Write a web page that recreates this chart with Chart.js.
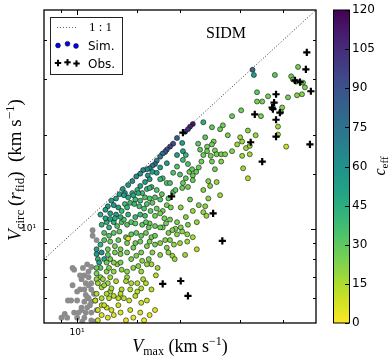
<!DOCTYPE html>
<html><head><meta charset="utf-8">
<script src="https://cdn.jsdelivr.net/npm/chart.js@4.4.1/dist/chart.umd.min.js"></script>
<style>html,body{margin:0;padding:0;background:#fff;overflow:hidden}</style>
</head><body>
<canvas id="c" width="392" height="361" style="width:392px;height:361px;display:block"></canvas>
<script>
// ---------------- data ----------------
const xRange = [8, 50];          // V_max axis (km/s), log
const yRange = [5, 50];          // V_circ(r_fid) axis (km/s), log
const ceffRange = [0, 120];
const ceffStep = 15;
const oneToOne = [8, 50];
const legendLabels = ['1 : 1', 'Sim.', 'Obs.'];
const panelLabel = 'SIDM';

// simulated haloes: [V_max, V_circ(r_fid), c_eff]
const simUpper = [
 [32.6,32.2,78],[32.9,31.0,52],[37.9,31.0,30],[44.3,32.9,25],[42.3,30.7,25],[42.8,30.0,25],[43.7,29.5,27],[45.8,29.3,25],
 [46.4,28.3,25],[45.5,26.9,22],[44.0,26.7,22],[41.4,26.3,25],[33.6,27.3,30],[36.2,26.5,25],
 [33.6,25.5,25],[34.8,25.5,25],[39.8,24.4,22],[39.5,23.6,22],[30.2,23.9,27],[34.5,22.9,25],[28.4,22.9,27],
 [26.7,21.4,27],[26.2,20.8,27],[24.8,21.1,30],[23.4,21.9,45],[31.6,20.6,22],[38.7,21.2,17],
 [38.7,20.0,17],[33.3,19.9,19],[27.6,19.9,25],[30.0,19.6,19],[23.7,19.6,30]
];
const simDiag = [
 [21.8,21.6,112],[21.4,21.2,108],[21.1,20.8,102],[20.7,20.4,98],[19.6,19.5,82],[19.1,18.7,92],[18.7,18.3,98],
 [18.3,17.9,88],[18.1,17.6,82],[17.8,17.4,78],[17.5,17.0,72],[17.1,16.5,66],[16.9,16.1,78],[16.6,15.9,72],
 [16.3,15.6,66],[16.0,15.5,60],[15.6,15.4,66],[15.3,15.0,60],[14.9,14.7,63],[14.5,14.2,60],[14.1,13.8,56],
 [13.6,13.4,56],[13.8,13.0,52],[13.3,12.9,52],[13.0,12.5,52],[12.6,12.3,52],[12.3,11.8,52],[12.1,11.5,52],
 [12.8,11.9,56],[11.7,11.1,45],[16.1,14.8,56],[16.6,15.2,52],[17.1,15.1,52],[15.8,14.1,52],[16.3,14.4,52]
];
const simMid = [
 [30.4,19.0,19],[25.1,19.0,25],[29.4,18.6,19],[31.2,18.1,18],[32.0,18.4,18],[40.9,18.3,9],[24.0,18.3,25],[20.3,18.8,52],[22.6,18.7,30],[24.8,18.6,27],[22.9,17.9,30],
 [25.3,17.8,25],[25.6,17.3,25],[26.4,17.3,25],[27.1,17.3,23],[32.0,17.3,18],[28.4,17.7,22],[24.0,17.7,27],[24.6,17.1,25],[30.4,17.1,18],[23.4,17.2,27],[20.4,17.7,52],[20.8,17.2,40],[19.6,17.2,52],
 [26.4,16.4,23],[24.8,16.4,25],[23.1,16.4,27],[20.4,16.6,37],[21.1,16.1,33],[18.3,16.2,52],[22.7,15.7,27],[22.3,15.2,27],[19.6,15.8,33],[17.5,15.7,52],[30.6,15.6,18],[25.3,15.5,25],
 [21.8,14.8,27],[21.3,15.2,27],[19.1,15.1,33],[20.0,14.9,33],[20.8,14.5,30],[21.7,15.5,30],[17.8,14.5,37],[31.6,14.5,14],
 [24.2,14.2,22],[24.5,13.7,22],[25.6,14.1,19],[21.8,14.3,27],[20.4,14.0,27],[20.3,13.5,27],[21.1,13.6,25],[18.3,14.0,33],[15.3,13.7,52],[16.5,13.6,37],[16.0,13.4,37],[15.0,13.3,40],[17.1,13.3,33],
 [23.4,13.3,22],[19.1,13.1,30],[14.5,13.0,40],[15.5,13.0,37],[16.9,12.6,33],[16.3,12.5,33],[15.8,12.6,33],[15.3,12.3,37],[14.8,12.4,37],[26.2,12.8,18],[24.2,12.5,22],[17.7,12.9,30],[18.5,12.5,30],
 [23.7,11.8,22],[20.1,11.7,22],[21.8,11.4,19],[18.3,11.9,25],[18.8,11.7,25],[17.8,11.4,25],[17.1,11.6,27],[14.3,12.1,37],[13.8,12.0,37],[16.0,12.0,33],[16.6,12.1,30],[13.2,11.7,52],[13.5,11.4,40],[14.0,11.7,40],[14.7,12.0,40],[15.2,11.8,37],[15.7,11.6,33],[16.4,11.4,30],[12.5,11.2,52],[13.0,11.1,52],
 [23.4,11.3,19],[23.9,11.0,19],[20.8,10.9,22],[17.5,11.2,25],[16.9,11.0,25],[18.7,10.7,25],[18.0,10.8,25],[22.4,10.5,19],
 [18.2,10.4,25],[19.6,10.5,23],[20.1,10.1,22],[19.4,10.0,22],[17.8,10.1,25],[19.0,9.9,23],[16.9,10.2,27],[16.3,10.4,27],[11.8,10.3,42],[12.2,10.5,42],[12.4,10.1,42],[12.8,10.5,42],[13.1,10.2,33],[13.5,10.5,33],[13.7,10.7,33],[14.0,10.3,33],[14.4,10.5,31],[14.8,10.4,31],[15.5,10.3,30],[15.9,10.5,30],[16.2,10.1,29]
];
const simLow = [
 [18.5,9.7,23],[19.6,9.6,22],[20.3,9.8,22],[21.0,9.6,21],[21.8,9.4,16],[16.5,9.4,25],[12.0,9.7,32],[12.4,9.5,32],[12.8,9.7,30],[13.3,9.8,30],[13.9,9.4,29],[14.4,9.6,29],[14.9,9.7,28],[15.4,9.5,28],[15.9,9.7,27],[14.1,9.3,3],
 [18.1,9.2,23],[18.7,9.2,22],[16.3,9.1,25],[20.0,9.0,18],[12.5,9.1,27],[12.9,8.8,25],[14.0,9.0,25],[14.6,8.7,25],[15.3,9.1,25],[16.0,8.8,24],[17.5,9.0,23],[18.3,8.7,22],[19.2,8.9,21],[21.0,9.1,19],[11.7,8.9,42],[11.4,8.6,50],[12.3,8.6,27],[13.4,8.6,25],[22.4,8.6,14],
 [18.5,8.4,19],[19.0,8.2,19],[13.4,8.3,25],[16.6,8.4,22],[12.9,8.4,25],[14.0,8.4,25],[15.4,8.4,24],[14.9,8.2,24],[16.2,8.0,23],[11.8,8.4,58],[11.4,8.3,55],[12.0,8.0,48],[11.5,8.0,42],
 [16.5,7.7,18],[11.6,7.8,50],[12.5,8.0,25],[13.1,7.7,22],[13.5,7.4,21],[14.6,7.5,21],[16.0,7.7,20],[11.7,7.5,32],[11.4,7.5,28],[12.2,7.3,23],[12.4,7.5,23],[12.8,7.8,23],[14.0,7.3,21],[15.4,7.3,19],[12.8,7.3,21],
 [17.0,7.1,13],[11.4,7.2,24],[11.7,7.0,20],[14.0,7.0,18],[11.4,6.9,19],[11.9,6.9,18],[12.5,7.0,18],[13.9,6.8,16],[15.6,6.9,14],[15.0,6.7,15],
 [11.5,6.7,18],[12.3,6.7,16],[13.0,6.8,16],[13.5,6.4,15],[14.4,6.7,15],[15.0,6.3,13],[15.9,6.7,15],[14.3,6.4,15],[11.8,6.5,16],
 [11.4,6.2,15],[11.8,6.0,15],[11.3,5.9,13],[12.4,6.0,13],[12.8,6.1,13],[13.7,6.0,13],[14.2,5.9,11],[15.4,5.8,9],[12.5,6.3,15],[13.2,6.0,13],[16.0,5.9,9],
 [11.8,5.7,11],[11.5,5.5,9],[12.2,5.6,8],[11.8,5.3,6],[12.3,5.2,6],[12.8,5.3,6],[13.9,5.1,4],[14.6,5.2,4],[15.7,5.1,2],[16.9,5.5,4],[12.6,5.5,8],[11.5,5.1,7],[13.4,5.4,6]
];
const simExtra = [
 [12.0,9.2,32],[13.2,9.2,28],[14.8,9.0,27],[16.9,8.9,25],[12.3,8.25,30],[14.4,8.0,24],[15.5,7.9,22],[12.2,7.8,27],
 [13.4,7.8,24],[15.1,7.6,21],[17.2,7.5,18],[12.0,6.6,18],[12.6,6.45,17],[15.4,6.45,15],[16.5,6.4,13],[12.2,6.2,15],
 [13.4,6.2,14],[14.8,6.1,13],[12.0,5.7,11],[13.2,5.7,10],[14.3,5.5,8],[15.3,5.4,7],[16.3,5.3,5],
 [12.1,10.8,50],[12.5,10.75,48],[12.9,10.8,46],[13.4,10.9,45],[14.1,11.1,42],[14.8,10.9,40],[15.3,11.1,38],[15.8,11.0,37],
 [14.1,12.6,48],[14.6,12.8,48],[13.7,12.8,52],[15.1,13.0,45],[17.5,14.4,40],[18.7,14.0,33],[16.3,13.5,40],[19.4,13.3,30],
 [17.5,12.4,33],[21.4,12.4,27],[22.7,11.9,24],[21.1,10.3,24],[17.5,10.1,27],[16.9,9.5,27],[20.7,8.25,18],[19.3,8.0,19],[17.5,8.25,21]
];
// haloes without c_eff (grey): [V_max, V_circ]
const greyPts = [
 [11.1,9.9],[11.1,9.5],[11.4,9.2],[9.8,7.4],[10.4,7.5],[10.7,7.7],[11.0,7.55],[10.8,7.3],[10.5,7.1],[10.8,7.0],
 [10.3,6.9],[10.6,6.7],[11.0,6.7],[9.7,6.6],[10.2,6.4],[10.5,6.4],[11.0,6.4],[11.2,6.2],[10.0,6.3],[10.7,6.05],
 [10.0,5.9],[9.6,5.9],[9.4,5.9],[10.5,5.85],[11.0,5.85],[10.9,5.7],[10.3,5.6],[10.7,5.6],[10.3,5.5],[9.8,5.4],
 [10.1,5.4],[10.6,5.4],[11.0,5.4],[9.2,5.35],[9.35,5.2],[9.0,5.2],[10.0,5.2],[10.5,5.2],[11.0,5.1],[11.3,5.05],
 [10.35,5.05],[9.7,7.5],[10.2,7.1],[10.8,6.6],[10.8,6.0],[11.4,5.5],[11.3,5.9],[10.6,6.15]
];
// observed galaxies: [V_max, V_circ]
const obsPts = [
 [47.0,36.6],[46.7,32.3],[43.4,29.8],[44.9,29.4],[48.3,27.5],[38.2,26.9],[37.7,25.3],[37.2,24.4],[37.4,24.1],
 [39.2,23.5],[33.1,23.2],[38.2,22.3],[38.2,19.7],[32.2,18.9],[48.0,18.6],[34.8,16.4],[20.4,20.3],[18.9,12.7],
 [25.0,11.2],[26.6,9.15],[17.8,6.67],[20.1,6.81],[21.1,6.10]
];

// ---------------- colour map (viridis, reversed) ----------------
const viridis = ['#440154','#482475','#414487','#355f8d','#2a788e','#21918c','#22a884','#44bf70','#7ad151','#bddf26','#fde725'];
function h2r(h){return [parseInt(h.slice(1,3),16),parseInt(h.slice(3,5),16),parseInt(h.slice(5,7),16)];}
function cmap(c){
  let t = 1 - (c - ceffRange[0])/(ceffRange[1]-ceffRange[0]);
  t = Math.max(0, Math.min(1, t));
  const f = t*10, i = Math.min(9, Math.floor(f)), u = f - i;
  const a = h2r(viridis[i]), b = h2r(viridis[i+1]);
  return 'rgb(' + a.map((v,k)=>Math.round(v+(b[k]-v)*u)).join(',') + ')';
}

const simAll = [...simUpper, ...simDiag, ...simMid, ...simLow, ...simExtra];
const toXY = arr => arr.map(p => ({x:p[0], y:p[1]}));

// ---------------- drawing helpers ----------------
const SERIF = '"Liberation Serif", "DejaVu Serif", serif';
const SANS = '"DejaVu Sans", sans-serif';
function rich(ctx, parts, x, y, rot){
  ctx.save(); ctx.translate(x,y); ctx.rotate(rot||0);
  let w = 0; parts.forEach(p=>{ctx.font=p[1]; w+=ctx.measureText(p[0]).width;});
  let cx = -w/2;
  ctx.textAlign='left'; ctx.textBaseline='alphabetic'; ctx.fillStyle='#000';
  parts.forEach(p=>{ctx.font=p[1]; ctx.fillText(p[0], cx, p[2]||0); cx+=ctx.measureText(p[0]).width;});
  ctx.restore();
}
function seg(ctx,x0,y0,x1,y1){ctx.beginPath();ctx.moveTo(x0,y0);ctx.lineTo(x1,y1);ctx.stroke();}
function plus(ctx,x,y,r,w){ctx.lineWidth=w;ctx.strokeStyle='#000';seg(ctx,x-r,y,x+r,y);seg(ctx,x,y-r,x,y+r);}
const isMajor = v => Math.abs(Math.log10(v)-Math.round(Math.log10(v)))<1e-9;

const decor = {
  id:'decor',
  afterDraw(chart){
    const {ctx, chartArea:a, scales} = chart;
    const xs = scales.x, ys = scales.y, cb = scales.cb;
    ctx.save();
    // frame
    ctx.strokeStyle='#000'; ctx.lineWidth=1.3;
    ctx.strokeRect(a.left, a.top, a.right-a.left, a.bottom-a.top);
    // inward ticks on all four sides
    ctx.lineWidth=1;
    xs.ticks.forEach(t=>{
      const v=t.value; if (v<=xs.min+1e-9 || v>=xs.max-1e-9) return;
      const p=Math.round(xs.getPixelForValue(v))+0.5, L=isMajor(v)?5:3;
      seg(ctx,p,a.bottom,p,a.bottom-L); seg(ctx,p,a.top,p,a.top+L);
    });
    ys.ticks.forEach(t=>{
      const v=t.value; if (v<=ys.min+1e-9 || v>=ys.max-1e-9) return;
      const p=Math.round(ys.getPixelForValue(v))+0.5, L=isMajor(v)?5:3;
      seg(ctx,a.left,p,a.left+L,p); seg(ctx,a.right,p,a.right-L,p);
    });
    // colour bar
    const bx0=333, bx1=349;
    const top=cb.getPixelForValue(ceffRange[1]), bot=cb.getPixelForValue(ceffRange[0]);
    const g=ctx.createLinearGradient(0,bot,0,top);
    for(let i=0;i<=24;i++){ g.addColorStop(i/24, cmap(ceffRange[0]+(ceffRange[1]-ceffRange[0])*i/24)); }
    ctx.fillStyle=g; ctx.fillRect(bx0,top,bx1-bx0,bot-top);
    ctx.strokeStyle='#000'; ctx.lineWidth=1; ctx.strokeRect(bx0+0.5,top,bx1-bx0,bot-top);
    cb.ticks.forEach(t=>{ const p=Math.round(cb.getPixelForValue(t.value))+0.5; seg(ctx,bx1-4,p,bx1,p); });
    // axis titles
    rich(ctx,[['V','italic 18px '+SERIF,0],['max','12px '+SERIF,3],[' (km s','18px '+SERIF,0],['\u22121','12px '+SERIF,-7],[')','18px '+SERIF,0]], 180, 352, 0);
    rich(ctx,[['V','italic 19px '+SERIF,0],['circ','13px '+SERIF,3],['\u2009(','19px '+SERIF,0],['r','italic 19px '+SERIF,0],['fid','13px '+SERIF,3],[')','19px '+SERIF,0],['  (km s','19px '+SERIF,0],['\u22121','13px '+SERIF,-7],[')','19px '+SERIF,0]], 21, 170, -Math.PI/2);
    rich(ctx,[['c','italic 16px '+SERIF,0],['eff','11px '+SERIF,3]], 385, 166, -Math.PI/2);
    // panel label
    ctx.fillStyle='#000'; ctx.font='16px '+SERIF; ctx.textAlign='left'; ctx.textBaseline='alphabetic';
    ctx.fillText(panelLabel, 206, 38);
    // legend
    ctx.fillStyle='#fff'; ctx.fillRect(50,17,72,57);
    ctx.strokeStyle='#222'; ctx.lineWidth=1; ctx.strokeRect(50.5,17.5,72,57);
    ctx.strokeStyle='#666'; ctx.lineWidth=1; ctx.setLineDash([1,2]); seg(ctx,57,27.5,77,27.5); ctx.setLineDash([]);
    ctx.fillStyle='#000'; ctx.font='13px '+SERIF; ctx.fillText(legendLabels[0], 89, 31);
    [[58,45.5],[67.5,43.8],[76,46]].forEach(p=>{ctx.beginPath();ctx.arc(p[0],p[1],2.4,0,Math.PI*2);ctx.fillStyle='#0000ff';ctx.fill();ctx.lineWidth=0.6;ctx.strokeStyle='#000';ctx.stroke();});
    ctx.fillStyle='#000'; ctx.font='12px '+SANS; ctx.fillText(legendLabels[1], 88, 49.5);
    [[58,63],[67.5,62.3],[76.5,63.5]].forEach(p=>plus(ctx,p[0],p[1],3.2,2));
    ctx.fillStyle='#000'; ctx.font='12px '+SANS; ctx.fillText(legendLabels[2], 88, 67.5);
    ctx.restore();
  }
};

const hiddenTicks = len => ({display:true, drawOnChartArea:false, drawTicks:true, tickLength:len, tickColor:'rgba(0,0,0,0)'});

new Chart(document.getElementById('c'), {
  type:'scatter',
  data:{datasets:[
    {type:'line', data: oneToOne.map(v=>({x:v,y:v})), borderColor:'#333', borderWidth:1, borderDash:[1,2], pointRadius:0, fill:false, order:4, clip:0},
    {data: toXY(greyPts), pointRadius:2.9, backgroundColor:'#8c8c8c', borderColor:'#8c8c8c', borderWidth:0, order:3, clip:0},
    {data: toXY(simAll), pointRadius:2.5, backgroundColor: simAll.map(p=>cmap(p[2])), borderColor:'#111', borderWidth:0.6, order:2, clip:0},
    {data: toXY(obsPts), pointStyle:'cross', pointRadius:3.6, borderColor:'#000', borderWidth:2.2, order:1, clip:0}
  ]},
  options:{
    responsive:false, animation:false, devicePixelRatio:1,
    layout:{padding:{top:10,left:0,right:0,bottom:0}},
    plugins:{legend:{display:false}, tooltip:{enabled:false}},
    scales:{
      x:{type:'logarithmic', position:'bottom', min:xRange[0], max:xRange[1],
         grid:hiddenTicks(4), border:{display:false},
         ticks:{autoSkip:false, maxRotation:0, padding:0, color:'#000', font:{family:'DejaVu Sans', size:9},
                callback:(v)=> isMajor(v) ? '10\u00b9' : ''},
         afterFit:s=>{s.height=38;}},
      y:{type:'logarithmic', position:'left', min:yRange[0], max:yRange[1],
         grid:hiddenTicks(8), border:{display:false},
         ticks:{autoSkip:false, padding:0, color:'#000', font:{family:'DejaVu Sans', size:9},
                callback:(v)=> isMajor(v) ? '10\u00b9' : ''},
         afterFit:s=>{s.width=44;}},
      cb:{type:'linear', position:'right', min:ceffRange[0], max:ceffRange[1],
          grid:hiddenTicks(36), border:{display:false},
          ticks:{stepSize:ceffStep, padding:0, color:'#000', font:{family:'DejaVu Sans', size:12}},
          afterFit:s=>{s.width=76;}}
    }
  },
  plugins:[decor]
});
</script>
</body></html>
